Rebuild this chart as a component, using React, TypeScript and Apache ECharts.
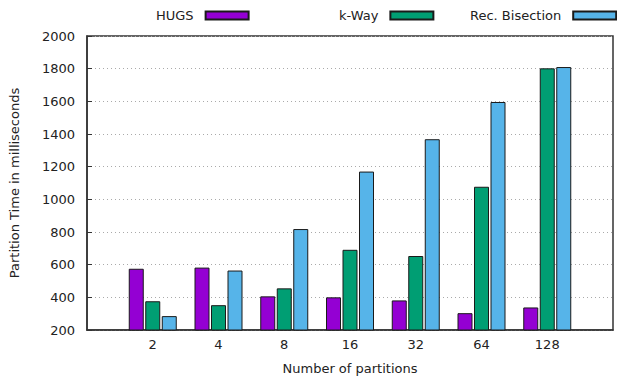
import React, { useEffect, useRef } from "react";
import * as echarts from "echarts";

const categories = ["2", "4", "8", "16", "32", "64", "128"];
const hugs = [575, 582, 406, 400, 381, 303, 338];
const kWay = [376, 352, 455, 691, 653, 1077, 1802];
const recBisection = [285, 564, 818, 1170, 1368, 1596, 1810];
const yTicks = { min: 200, max: 2000, interval: 200 };

const FONT = "DejaVu Sans";
const pad = (arr: any[]) => [null, ...arr, null];

export default function App() {
  const ref = useRef<HTMLDivElement>(null);
  useEffect(() => {
    if (!ref.current) return;
    const chart = echarts.init(ref.current, undefined, { renderer: "svg" });
    const barStyle = (color: string) => ({
      color,
      borderColor: "#1a1a1a",
      borderWidth: 1,
    });
    const legendBase = {
      top: 9,
      padding: 0,
      align: "right" as const,
      itemWidth: 43,
      itemHeight: 8,
      icon: "rect",
      textStyle: { fontFamily: FONT, fontSize: 13, color: "#222", padding: [0, 7, 0, 0] },
    };
    chart.setOption({
      animation: false,
      textStyle: { fontFamily: FONT },
      legend: [
        { ...legendBase, left: 156, data: ["HUGS"] },
        { ...legendBase, left: 339, data: ["k-Way"] },
        { ...legendBase, left: 470, data: ["Rec. Bisection"] },
      ],
      grid: {
        left: 87,
        right: 4,
        top: 36,
        bottom: 46.5,
        show: true,
        borderColor: "#333",
        borderWidth: 1.5,
      },
      xAxis: {
        type: "category",
        data: pad(categories).map((c) => (c === null ? "" : c)),
        boundaryGap: false,
        name: "Number of partitions",
        nameLocation: "middle",
        nameGap: 32,
        nameTextStyle: { fontFamily: FONT, fontSize: 13, color: "#222" },
        axisLine: { lineStyle: { color: "#333", width: 1.5 } },
        axisTick: { show: false },
        axisLabel: { fontFamily: FONT, fontSize: 13, color: "#222", margin: 8, interval: 0 },
        splitLine: { show: false },
      },
      yAxis: {
        type: "value",
        min: yTicks.min,
        max: yTicks.max,
        interval: yTicks.interval,
        name: "Partition Time in milliseconds",
        nameLocation: "middle",
        nameGap: 66,
        nameTextStyle: { fontFamily: FONT, fontSize: 13, color: "#222" },
        axisLine: { show: true, lineStyle: { color: "#333", width: 1.5 } },
        axisTick: { show: true, inside: true, length: 5, lineStyle: { color: "#333" } },
        axisLabel: {
          fontFamily: FONT,
          fontSize: 13,
          color: "#222",
          margin: 12,
          formatter: (v: number) => String(v),
        },
        splitLine: {
          show: true,
          lineStyle: { color: "#aaa", type: [1, 3], width: 1 },
        },
      },
      series: [
        {
          name: "HUGS",
          type: "bar",
          data: pad(hugs),
          barWidth: 15,
          barGap: "10%",
          itemStyle: barStyle("#9400d3"),
        },
        {
          name: "k-Way",
          type: "bar",
          data: pad(kWay),
          barWidth: 15,
          barGap: "10%",
          itemStyle: barStyle("#009e73"),
        },
        {
          name: "Rec. Bisection",
          type: "bar",
          data: pad(recBisection),
          barWidth: 15,
          barGap: "10%",
          itemStyle: barStyle("#56b4e9"),
        },
      ],
    });
    return () => chart.dispose();
  }, []);
  return (
    <div
      ref={ref}
      style={{ position: "fixed", left: 0, top: 0, width: 617, height: 380, background: "#fff" }}
    />
  );
}
